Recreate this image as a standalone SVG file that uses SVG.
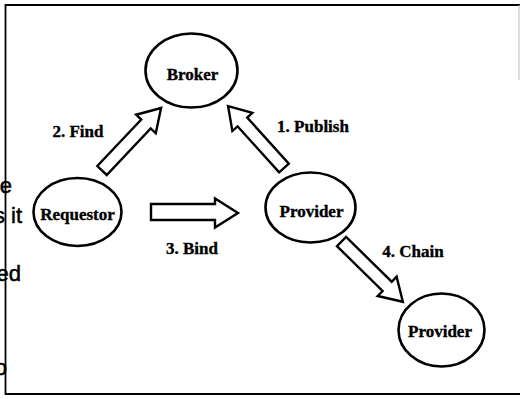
<svg xmlns="http://www.w3.org/2000/svg" width="520" height="399" viewBox="0 0 520 399">
  <style>
    .node { fill: #ffffff; stroke: #000000; stroke-width: 2.6; }
    .label { font-family: "Liberation Serif", "Times New Roman", serif; font-weight: bold; font-size: 17px; fill: #000000; stroke: #000000; stroke-width: 0.35; text-anchor: middle; }
    .edge { fill: #ffffff; stroke: #000000; stroke-width: 2.4; stroke-linejoin: miter; }
    .frame { fill: none; stroke: #000000; stroke-width: 1.8; }
    .side { font-family: "Liberation Sans", Arial, sans-serif; font-size: 22px; fill: #000000; stroke: #000000; stroke-width: 0.5; text-anchor: end; }
  </style>
  <defs>
    <!-- hollow block arrow pointing along +x, tail at origin -->
    <path id="block-arrow-86" d="M0,-6.5 L64,-6.5 L64,-13.5 L86,0 L64,13.5 L64,6.5 L0,6.5 Z"/>
  </defs>

  <rect width="520" height="399" fill="#ffffff"/>

  <!-- running text of the surrounding page -->
  <g id="page-text">
    <text class="side" x="12" y="193">e</text>
    <text class="side" x="22" y="223">s it</text>
    <text class="side" x="21" y="281">ed</text>
    <text class="side" x="7" y="375">o</text>
  </g>

  <!-- figure frame -->
  <path class="frame" d="M520,5 H5.5 V394 H520"/>
  <line x1="519" y1="5" x2="519" y2="80" stroke="#bbbbbb" stroke-width="1"/>

  <g id="connectors">
    <g id="edge-publish">
      <use href="#block-arrow-86" class="edge" transform="translate(284,168) rotate(-132.1) scale(0.97,1)"/>
      <text class="label" x="313" y="132">1. Publish</text>
    </g>
    <g id="edge-find">
      <use href="#block-arrow-86" class="edge" transform="translate(102,170.5) rotate(-46.6)"/>
      <text class="label" x="78" y="137">2. Find</text>
    </g>
    <g id="edge-bind">
      <path class="edge" d="M151,204 L215,204 L215,198.5 L238,213 L215,227.5 L215,220 L151,220 Z"/>
      <text class="label" x="192" y="254">3. Bind</text>
    </g>
    <g id="edge-chain">
      <use href="#block-arrow-86" class="edge" transform="translate(341.5,241.5) rotate(44.5)"/>
      <text class="label" x="413" y="257">4. Chain</text>
    </g>
  </g>

  <g id="broker">
    <ellipse class="node" cx="191.5" cy="70.5" rx="46" ry="37"/>
    <text class="label" x="192.5" y="80">Broker</text>
  </g>
  <g id="requestor">
    <ellipse class="node" cx="77.5" cy="212" rx="44" ry="34"/>
    <text class="label" x="77.5" y="220">Requestor</text>
  </g>
  <g id="provider">
    <ellipse class="node" cx="310.5" cy="207.5" rx="45" ry="35"/>
    <text class="label" x="311.5" y="217">Provider</text>
  </g>
  <g id="provider-chained">
    <ellipse class="node" cx="441.5" cy="330" rx="43" ry="36.5"/>
    <text class="label" x="440" y="337">Provider</text>
  </g>
</svg>
